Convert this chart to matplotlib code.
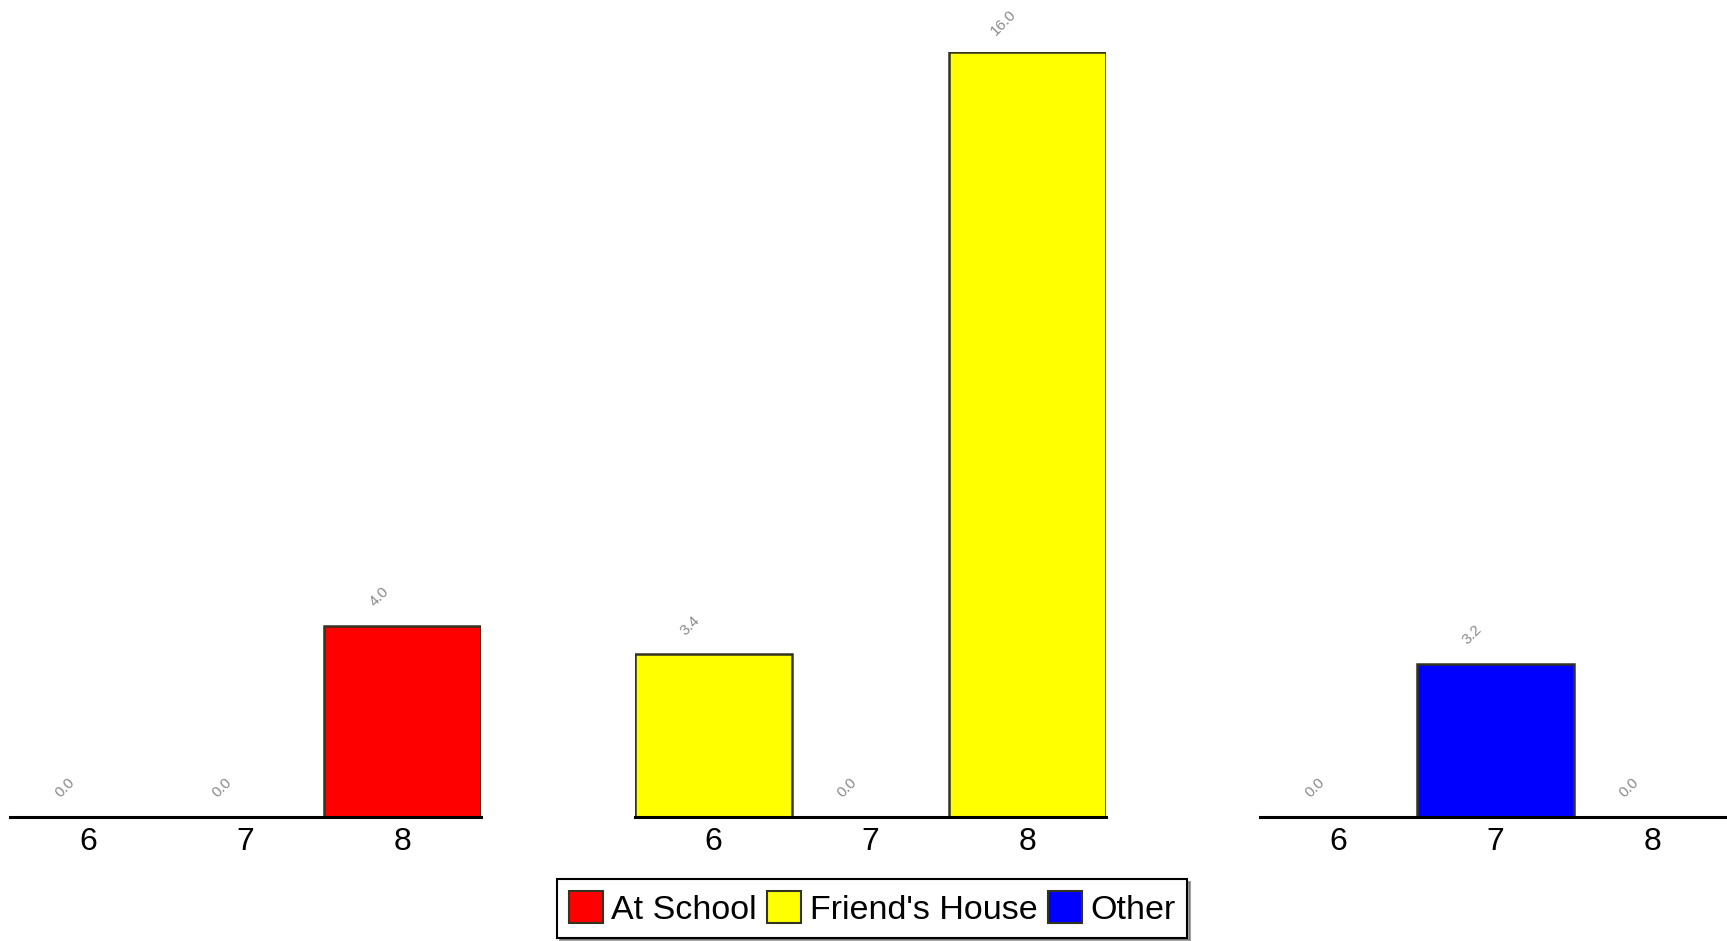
import matplotlib
matplotlib.use("Agg")
import matplotlib.pyplot as plt
from matplotlib.patches import Patch

plt.rcParams['font.family'] = ['Liberation Sans', 'DejaVu Sans']

# data
ages = ["6", "7", "8"]
groups = ["At School", "Friend's House", "Other"]
at_school = [0.0, 0.0, 4.0]
friends_house = [3.4, 0.0, 16.0]
other = [0.0, 3.2, 0.0]
colors = ["#ff0000", "#ffff00", "#0000ff"]

W, H = 1727, 941
fig = plt.figure(figsize=(W / 100, H / 100), dpi=100)

# panel left edges in pixels, each panel 471 px wide
lefts = [10, 635, 1260]
pw = 471
bottom_px = 817
top_px = 52

series = [at_school, friends_house, other]
for left, vals, col in zip(lefts, series, colors):
    ax = fig.add_axes([left / W, (H - bottom_px) / H, pw / W, (bottom_px - top_px) / H])
    x = range(len(ages))
    ax.bar(x, vals, width=1.0, color=col, edgecolor="#333322", linewidth=1.8)
    ax.set_xlim(-0.5, 2.5)
    ax.set_ylim(0, 16)
    ax.set_xticks(list(x))
    ax.set_xticklabels(ages, fontsize=23)
    ax.tick_params(axis='x', length=0, pad=7)
    ax.set_yticks([])
    for s in ['left', 'top', 'right']:
        ax.spines[s].set_visible(False)
    ax.spines['bottom'].set_linewidth(2.2)
    ax.spines['bottom'].set_zorder(5)
    for xi, v in zip(x, vals):
        ax.annotate(f"{v:.1f}", (xi, v), xytext=(-17, 21), textcoords='offset points',
                    ha='center', va='center', rotation=45, fontsize=11,
                    color='#8a8a8a', annotation_clip=False)

handles = [Patch(facecolor=c, edgecolor="#333322", linewidth=1.5) for c in colors]
leg = fig.legend(handles, groups, loc='lower center', bbox_to_anchor=(0.505, 0.0),
                 ncol=3, fontsize=24.5, frameon=True, fancybox=False, shadow=True,
                 edgecolor='black', handlelength=1.0, handleheight=1.1,
                 handletextpad=0.25, columnspacing=0.3, borderpad=0.35,
                 borderaxespad=0.1)
leg.get_frame().set_linewidth(1.5)

fig.savefig("out.png", dpi=100)
